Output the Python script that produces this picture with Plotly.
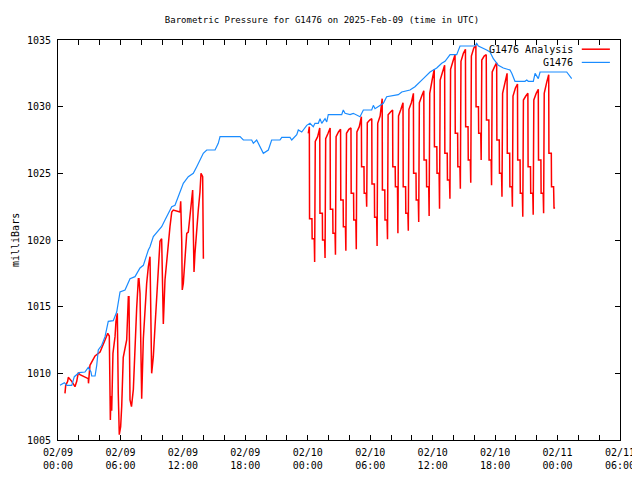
import plotly.graph_objects as go
import pandas as pd

BASE = pd.Timestamp("2025-02-09 00:00")

# Observed station pressure (hours after 02/09 00:00 UTC, millibars)
blue_hours = [0.19, 0.61, 0.84, 1.32, 1.57, 2.02, 2.59, 2.91, 3.17, 3.24, 3.56, 3.72, 3.87,
              4.20, 4.52, 4.83, 5.31, 5.64, 5.96, 6.44, 6.92, 7.40, 7.88, 8.20, 8.68, 8.84,
              9.16, 9.96, 10.28, 10.93, 11.24, 11.72, 12.04, 12.52, 13.00, 13.33, 13.64, 13.96,
              14.29, 15.09, 15.40, 15.57, 17.49, 17.81, 18.61, 18.77, 19.09, 19.41, 19.73,
              20.21, 20.53, 21.33, 21.50, 22.29, 22.46, 22.94, 23.09, 23.42, 23.90, 24.21,
              24.53, 24.69, 25.01, 25.18, 25.34, 25.66, 25.82, 25.97, 27.26, 27.41, 27.58,
              28.06, 28.37, 29.02, 29.34, 30.14, 30.30, 30.46, 31.26, 31.58, 32.70, 33.03,
              33.82, 34.30, 34.78, 35.10, 35.75, 36.39, 36.87, 37.19, 37.67, 38.31, 38.63,
              40.07, 40.23, 40.39, 41.19, 41.51, 41.83, 42.31, 42.79, 43.43, 43.60, 43.91,
              44.87, 45.04, 45.19, 45.67, 45.84, 46.15, 46.32, 48.88, 49.36]
blue_mbar = [1009.1, 1009.3, 1009.1, 1009.1, 1009.75, 1010.05, 1010.1, 1010.45, 1010.1, 1009.8,
             1009.8, 1010.6, 1011.75, 1012.1, 1012.75, 1013.9, 1013.95, 1014.6, 1016.1, 1016.25,
             1017.1, 1017.25, 1017.9, 1018.1, 1019.25, 1019.5, 1020.25, 1021.0, 1021.5, 1022.5,
             1022.6, 1023.6, 1024.25, 1024.75, 1025.0, 1025.5, 1026.05, 1026.5, 1026.75, 1026.75,
             1027.25, 1027.75, 1027.75, 1027.5, 1027.5, 1027.25, 1027.5, 1027.0, 1026.5, 1026.75,
             1027.5, 1027.5, 1027.7, 1027.7, 1027.5, 1027.9, 1028.25, 1028.1, 1028.6, 1028.75,
             1028.5, 1028.75, 1028.75, 1029.1, 1028.75, 1029.1, 1028.85, 1029.4, 1029.4, 1029.75,
             1029.5, 1029.4, 1029.5, 1029.25, 1029.75, 1029.75, 1030.1, 1029.85, 1030.25, 1030.75,
             1030.9, 1031.1, 1031.25, 1031.5, 1031.9, 1032.1, 1032.6, 1032.9, 1033.25, 1033.4,
             1033.9, 1033.9, 1034.55, 1034.55, 1034.75, 1034.55, 1034.25, 1034.1, 1033.6, 1033.1,
             1032.9, 1032.75, 1032.5, 1031.9, 1031.9, 1032.0, 1031.9, 1031.9, 1032.5, 1032.1,
             1032.6, 1032.6, 1032.1]

# Analysis pressure (None marks the gap in the record)
red_hours = [0.67, 0.74, 0.93, 0.99, 1.32, 1.47, 1.63, 1.80, 1.95, 2.11, 2.59, 2.91, 2.93, 3.07,
             3.56, 4.04, 4.52, 4.78, 4.93, 5.03, 5.09, 5.16, 5.28, 5.48, 5.57, 5.70, 5.79, 5.89,
             6.02, 6.12, 6.27, 6.44, 6.60, 6.76, 6.82, 6.92, 7.06, 7.24, 7.40, 7.56, 7.72, 7.78,
             7.88, 8.04, 8.20, 8.36, 8.52, 8.68, 8.84, 9.00, 9.16, 9.32, 9.64, 9.80, 9.96, 10.06,
             10.12, 10.28, 10.44, 10.60, 10.76, 10.93, 11.08, 11.72, 11.79, 11.89, 11.94, 12.04,
             12.20, 12.37, 12.52, 12.68, 12.85, 12.94, 13.00, 13.07, 13.16, 13.33, 13.48, 13.64,
             13.74, 13.90, 13.96, 13.97,
             19.00,
             24.05, 24.12,
             24.15, 24.17, 24.40, 24.42, 24.62, 24.66, 24.72, 24.95,
             25.15, 25.17, 25.40, 25.42, 25.62, 25.66, 25.72, 25.95,
             26.15, 26.17, 26.40, 26.42, 26.62, 26.66, 26.72, 26.95,
             27.15, 27.17, 27.40, 27.42, 27.62, 27.66, 27.72, 27.95,
             28.15, 28.17, 28.40, 28.42, 28.62, 28.66, 28.72, 28.95,
             29.15, 29.17, 29.40, 29.42, 29.62, 29.66, 29.72, 29.95,
             30.15, 30.17, 30.40, 30.42, 30.62, 30.66, 30.72, 30.95,
             31.15, 31.17, 31.40, 31.42, 31.62, 31.66, 31.72, 31.95,
             32.15, 32.17, 32.40, 32.42, 32.62, 32.66, 32.72, 32.95,
             33.15, 33.17, 33.40, 33.42, 33.62, 33.66, 33.72, 33.95,
             34.15, 34.17, 34.40, 34.42, 34.62, 34.66, 34.72, 34.95,
             35.15, 35.17, 35.40, 35.42, 35.62, 35.66, 35.72, 35.95,
             36.15, 36.17, 36.40, 36.42, 36.62, 36.66, 36.72, 36.95,
             37.15, 37.17, 37.40, 37.42, 37.62, 37.66, 37.72, 37.95,
             38.15, 38.17, 38.40, 38.42, 38.62, 38.66, 38.72, 38.95,
             39.15, 39.17, 39.40, 39.42, 39.62, 39.66, 39.72, 39.95,
             40.15, 40.17, 40.40, 40.42, 40.62, 40.66, 40.72, 40.95,
             41.15, 41.17, 41.40, 41.42, 41.62, 41.66, 41.72, 41.95,
             42.15, 42.17, 42.40, 42.42, 42.62, 42.66, 42.72, 42.95,
             43.15, 43.17, 43.40, 43.42, 43.62, 43.66, 43.72, 43.95,
             44.15, 44.17, 44.40, 44.42, 44.62, 44.66, 44.72, 44.95,
             45.15, 45.17, 45.40, 45.42, 45.62, 45.66, 45.72, 45.95,
             46.15, 46.17, 46.40, 46.42, 46.62, 46.66, 46.72, 46.95,
             47.15, 47.17, 47.40, 47.42, 47.62, 47.66, 47.76]
red_mbar = [1008.5, 1009.1, 1009.4, 1009.7, 1009.4, 1009.2, 1009.0, 1009.4, 1010.05, 1009.9,
            1009.75, 1009.6, 1009.25, 1010.6, 1011.3, 1011.6, 1012.5, 1013.0, 1012.8, 1006.5,
            1008.3, 1007.2, 1011.5, 1012.75, 1013.9, 1014.5, 1008.5, 1005.4, 1006.0, 1007.5,
            1011.2, 1011.75, 1012.5, 1015.75, 1015.75, 1008.0, 1007.5, 1008.8, 1012.1, 1014.9,
            1017.1, 1017.1, 1016.0, 1008.1, 1012.6, 1015.1, 1016.75, 1018.0, 1018.75, 1010.0,
            1011.25, 1013.5, 1018.0, 1019.9, 1020.1, 1015.0, 1013.7, 1017.0, 1018.5, 1020.0,
            1021.0, 1022.1, 1022.25, 1022.1, 1022.9, 1019.9, 1016.25, 1016.75, 1018.9, 1020.5,
            1020.6, 1021.9, 1023.4, 1023.75, 1020.75, 1017.6, 1019.0, 1021.0, 1022.25, 1023.6,
            1025.0, 1024.75, 1021.6, 1018.6,
            None,
            1028.0, 1028.5,
            1028.5, 1021.6, 1021.6, 1020.1, 1020.1, 1018.35, 1027.4, 1027.75,
            1028.4, 1022.0, 1022.0, 1020.0, 1020.0, 1018.65, 1027.6, 1028.0,
            1028.4, 1022.3, 1022.3, 1020.5, 1020.5, 1018.9, 1027.75, 1028.1,
            1028.3, 1023.0, 1023.0, 1021.0, 1021.0, 1019.2, 1028.0, 1028.3,
            1028.4, 1023.5, 1023.5, 1021.5, 1021.5, 1019.3, 1028.1, 1028.5,
            1029.25, 1025.5, 1025.5, 1023.5, 1023.5, 1022.5, 1028.8, 1029.0,
            1029.1, 1024.2, 1024.2, 1021.7, 1021.7, 1019.55, 1028.75, 1029.3,
            1030.6, 1023.75, 1023.75, 1021.5, 1021.5, 1020.05, 1029.4, 1029.6,
            1029.75, 1025.5, 1025.5, 1024.0, 1024.0, 1020.5, 1029.3, 1029.8,
            1030.3, 1024.0, 1024.0, 1022.0, 1022.0, 1020.7, 1029.8, 1030.3,
            1031.0, 1025.0, 1025.0, 1023.0, 1023.0, 1021.35, 1030.3, 1030.8,
            1031.2, 1026.0, 1026.0, 1024.0, 1024.0, 1021.8, 1031.0, 1032.0,
            1032.8, 1027.0, 1027.0, 1025.0, 1025.0, 1022.35, 1032.0, 1032.6,
            1033.1, 1026.5, 1026.5, 1024.5, 1024.5, 1023.1, 1032.8, 1033.4,
            1033.9, 1028.0, 1028.0, 1025.5, 1025.5, 1023.85, 1033.4, 1034.0,
            1034.3, 1028.5, 1028.5, 1026.0, 1026.0, 1024.3, 1033.8, 1034.4,
            1034.6, 1030.0, 1030.0, 1028.0, 1028.0, 1026.0, 1033.5, 1033.8,
            1033.9, 1029.0, 1029.0, 1026.0, 1026.0, 1024.1, 1032.6, 1033.0,
            1033.3, 1027.5, 1027.5, 1025.0, 1025.0, 1023.25, 1031.0, 1031.8,
            1032.5, 1026.5, 1026.5, 1024.0, 1024.0, 1022.5, 1030.8, 1031.4,
            1031.7, 1026.0, 1026.0, 1023.5, 1023.5, 1021.75, 1030.5, 1030.8,
            1031.0, 1025.5, 1025.5, 1023.5, 1023.5, 1021.9, 1030.5, 1031.0,
            1031.3, 1026.0, 1026.0, 1023.5, 1023.5, 1022.0, 1031.0, 1031.8,
            1032.4, 1026.5, 1026.5, 1024.0, 1024.0, 1022.4, 1022.4]

tick_hours = [0, 2, 4, 6, 8, 10, 12, 14, 16, 18, 20, 22, 24, 26, 28, 30, 32, 34, 36,
              38, 40, 42, 44, 46, 48, 50, 52, 54]
tick_labels = ["02/09<br>00:00", "", "", "02/09<br>06:00", "", "", "02/09<br>12:00", "", "",
               "02/09<br>18:00", "", "", "02/10<br>00:00", "", "", "02/10<br>06:00", "", "",
               "02/10<br>12:00", "", "", "02/10<br>18:00", "", "", "02/11<br>00:00", "", "",
               "02/11<br>06:00"]
y_ticks = [1005, 1010, 1015, 1020, 1025, 1030, 1035]

FONT = "DejaVu Sans Mono"
# the page body adds an 8px offset; figure is sized so the plot box lands at 58..620 x 40..440
W, H = 632, 472


def to_time(hours):
    return [BASE + pd.Timedelta(hours=h) for h in hours]


fig = go.Figure()
fig.add_trace(go.Scatter(x=to_time(red_hours), y=red_mbar, mode="lines",
                         line=dict(color="#ff0000", width=1.5), connectgaps=False,
                         name="G1476 Analysis"))
fig.add_trace(go.Scatter(x=to_time(blue_hours), y=blue_mbar, mode="lines",
                         line=dict(color="#1a8cff", width=1.2), name="G1476"))

fig.update_layout(
    width=W, height=H,
    margin=dict(l=50, r=20, t=32, b=40, autoexpand=False),
    paper_bgcolor="white", plot_bgcolor="white",
    showlegend=False,
    font=dict(family=FONT, size=10, color="black"),
    title=dict(text="Barometric Pressure for G1476 on 2025-Feb-09 (time in UTC)",
               x=(322 - 8) / W, xref="container", y=1 - 12 / H, yref="container",
               xanchor="center", yanchor="middle",
               font=dict(family=FONT, size=9, color="black")),
)
fig.update_xaxes(
    type="date",
    range=[BASE, BASE + pd.Timedelta(hours=54)],
    tickvals=to_time(tick_hours), ticktext=tick_labels,
    ticks="inside", ticklen=5, tickcolor="black", tickwidth=1,
    showline=True, linecolor="black", linewidth=1, mirror="ticks",
    showgrid=False, zeroline=False, tickangle=0, ticklabelstandoff=3,
)
fig.update_yaxes(
    range=[1005, 1035], tickvals=y_ticks, ticktext=[str(v) for v in y_ticks],
    ticks="inside", ticklen=5, tickcolor="black", tickwidth=1,
    showline=True, linecolor="black", linewidth=1, mirror="ticks",
    showgrid=False, zeroline=False, ticklabelstandoff=4,
)

fig.add_annotation(text="milliBars", xref="paper", yref="paper", x=(15 - 58) / 562, y=0.5,
                   textangle=-90, showarrow=False, xanchor="center", yanchor="middle",
                   font=dict(family=FONT, size=10))
# manual legend (text right-aligned with sample lines, as in the reference)
fig.add_annotation(text="G1476 Analysis", xref="paper", yref="paper", x=0.92, y=0.977,
                   showarrow=False, xanchor="right", yanchor="middle",
                   font=dict(family=FONT, size=10))
fig.add_annotation(text="G1476", xref="paper", yref="paper", x=0.92, y=0.944,
                   showarrow=False, xanchor="right", yanchor="middle",
                   font=dict(family=FONT, size=10))
fig.add_shape(type="line", xref="paper", yref="paper", x0=0.932, x1=0.982, y0=0.977, y1=0.977,
              line=dict(color="#ff0000", width=1.5))
fig.add_shape(type="line", xref="paper", yref="paper", x0=0.932, x1=0.982, y0=0.944, y1=0.944,
              line=dict(color="#1a8cff", width=1.2))

fig.write_html("out.html")
